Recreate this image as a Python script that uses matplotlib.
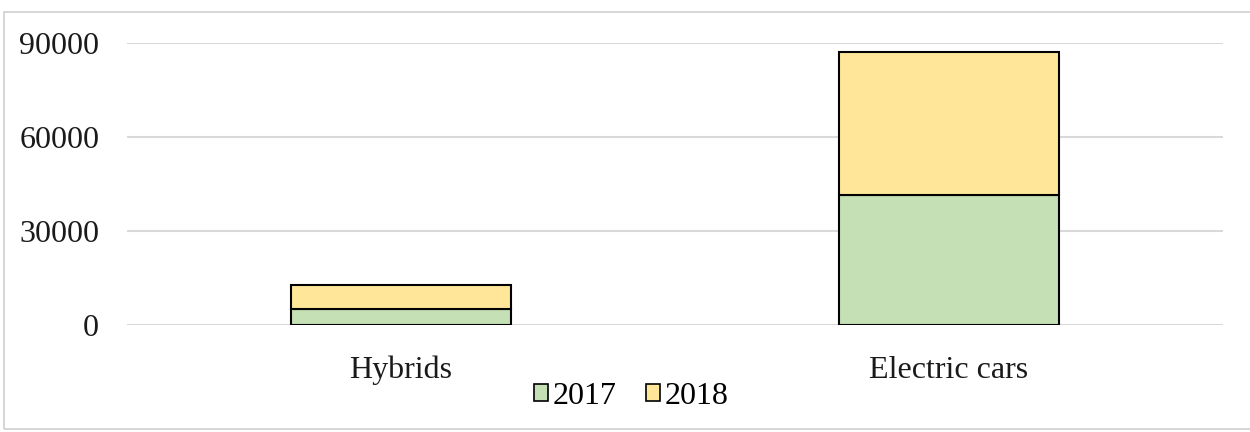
import matplotlib.pyplot as plt
from matplotlib.patches import Rectangle

# data
categories = ["Hybrids", "Electric cars"]
sales_2017 = [5000, 41500]
sales_2018 = [7700, 45500]
series_labels = ["2017", "2018"]
y_ticks = [0, 30000, 60000, 90000]

plt.rcParams["font.family"] = ["Liberation Serif", "DejaVu Serif"]
font_size = 23

fig = plt.figure(figsize=(12.5, 4.32), dpi=100)
ax = fig.add_axes([0.1016, 0.2477, 0.8768, 0.6528])

x = range(len(categories))
ax.bar(x, sales_2017, width=0.4, color="#C5E0B4", edgecolor="black",
       linewidth=1.5, label=series_labels[0], zorder=3)
ax.bar(x, sales_2018, width=0.4, bottom=sales_2017, color="#FFE699",
       edgecolor="black", linewidth=1.5, label=series_labels[1], zorder=3)

ax.set_xlim(-0.5, 1.5)
ax.set_ylim(0, 90000)
ax.set_yticks(y_ticks)
ax.set_yticklabels([str(v) for v in y_ticks])
ax.set_xticks(list(x))
ax.set_xticklabels(categories)
ax.tick_params(axis="both", length=0, labelsize=font_size, colors="#1a1a1a")
ax.tick_params(axis="y", pad=20)
ax.tick_params(axis="x", pad=22)

ax.grid(axis="y", color="#d9d9d9", linewidth=1.5, zorder=0)
for spine in ax.spines.values():
    spine.set_visible(False)

leg = fig.legend(
    loc="center",
    bbox_to_anchor=(0.505, 0.082),
    ncol=2,
    frameon=False,
    fontsize=font_size,
    handlelength=0.45,
    handleheight=0.45,
    handletextpad=0.15,
    columnspacing=0.9,
)
for h in leg.legend_handles:
    h.set_linewidth(1.2)

# chart area border
fig.patches.append(
    Rectangle((0.003, 0.008), 1.2, 0.964, transform=fig.transFigure,
              fill=False, edgecolor="#d0d0d0", linewidth=1.2)
)

plt.savefig("out.png", dpi=100)
